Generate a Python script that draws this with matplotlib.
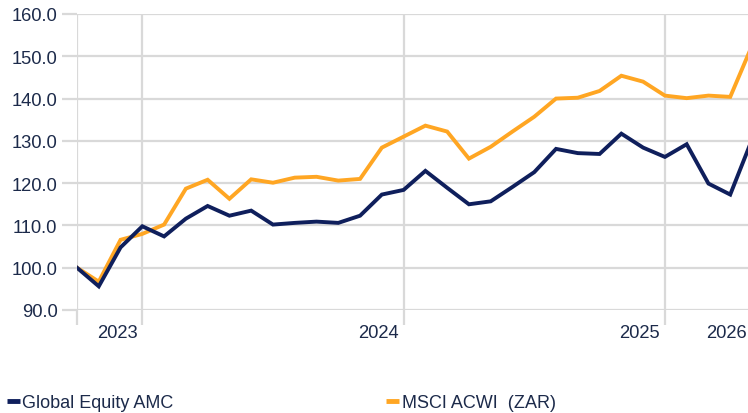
import numpy as np
import matplotlib
matplotlib.use("Agg")
import matplotlib.pyplot as plt
import matplotlib.transforms as mtransforms

# monthly index values, rebased to 100
fund = [100.0, 95.6, 104.8, 109.8, 107.4, 111.6, 114.6, 112.3, 113.5, 110.2,
        110.6, 110.9, 110.6, 112.3, 117.3, 118.4, 122.9, 118.9, 115.0, 115.7,
        119.1, 122.6, 128.1, 127.1, 126.9, 131.7, 128.4, 126.2, 129.2, 119.9,
        117.3, 130.3]
bench = [100.0, 96.7, 106.6, 108.0, 110.2, 118.7, 120.8, 116.3, 120.9, 120.1,
         121.3, 121.5, 120.6, 121.0, 128.4, 131.0, 133.6, 132.2, 125.8, 128.6,
         132.2, 135.7, 140.0, 140.2, 141.8, 145.4, 144.0, 140.7, 140.1, 140.7,
         140.4, 152.5]
series_names = ["Global Equity AMC", "MSCI ACWI  (ZAR)"]
year_lines = [0, 3, 15, 27]
year_labels = ["2023", "2024", "2025", "2026"]
year_label_pos = [3, 15, 27, 31]
y_ticks = [90, 100, 110, 120, 130, 140, 150, 160]

navy = "#0f1f5c"
orange = "#ffa623"
text_col = "#1c2a4a"
grid_col = "#d9d9d9"

plt.rcParams["font.family"] = ["Liberation Sans", "DejaVu Sans"]
plt.rcParams["font.size"] = 13.2

fig = plt.figure(figsize=(7.48, 4.14), dpi=100)
ax = fig.add_axes([77 / 748, 1 - 311 / 414, 675 / 748, 296 / 414])

x = np.arange(len(fund))
ax.plot(x, bench, color=orange, lw=2.8, solid_joinstyle="miter", label=series_names[1], zorder=3)
ax.plot(x, fund, color=navy, lw=2.8, solid_joinstyle="miter", label=series_names[0], zorder=4)

ax.set_xlim(0, 31)
ax.set_ylim(90, 160)
ax.set_yticks(y_ticks)
ax.set_yticklabels([f"{v:.1f}" for v in y_ticks], color=text_col)
ax.set_xticks(year_lines)
ax.set_xticklabels([])
ax.tick_params(axis="both", color=grid_col, width=1.6, length=10.5)
ax.tick_params(axis="y", pad=3.6)
ax.grid(True, color=grid_col, lw=1.6)
ax.set_axisbelow(True)
for s in ax.spines.values():
    s.set_visible(False)

# year labels sit just left of each year boundary
off = mtransforms.ScaledTranslation(-5 / 100, -14 / 100, fig.dpi_scale_trans)
for pos, lab in zip(year_label_pos, year_labels):
    ax.text(pos, 90, lab, transform=ax.transData + off, ha="right", va="top",
            color=text_col, clip_on=False)

h, l = ax.get_legend_handles_labels()
leg = fig.legend(h[::-1], l[::-1], loc="lower left", bbox_to_anchor=(7 / 748, 0.005),
                 ncol=2, frameon=False, handlelength=0.72, handletextpad=0.12,
                 columnspacing=11.8, borderpad=0, borderaxespad=0, fontsize=13.0)
for line in leg.get_lines():
    line.set_linewidth(3.5)
    line.set_solid_capstyle("butt")
for t in leg.get_texts():
    t.set_color(text_col)

fig.savefig("out.png", dpi=100)
